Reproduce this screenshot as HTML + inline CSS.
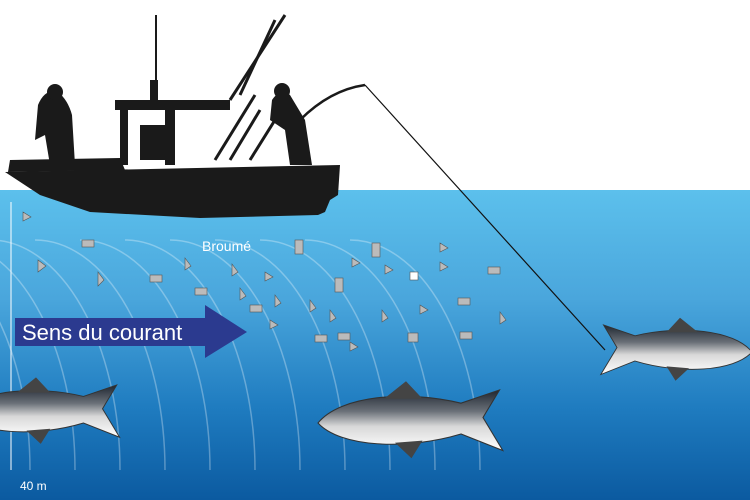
<!DOCTYPE html><html><head><style>body{margin:0}svg{display:block}</style></head><body>
<svg width="750" height="500" viewBox="0 0 750 500" xmlns="http://www.w3.org/2000/svg" font-family="Liberation Sans, sans-serif">
<defs>
<linearGradient id="w" x1="0" y1="0" x2="0" y2="1">
<stop offset="0" stop-color="#5cc0ec"/><stop offset="0.35" stop-color="#4aa6dc"/><stop offset="0.7" stop-color="#1f7cc0"/><stop offset="1" stop-color="#0b5aa0"/></linearGradient>
<linearGradient id="f" x1="0" y1="0" x2="0" y2="1"><stop offset="0" stop-color="#1e2630"/><stop offset="0.35" stop-color="#6a7078"/><stop offset="0.6" stop-color="#d8d8d8"/><stop offset="1" stop-color="#fff"/></linearGradient>
<clipPath id="c"><rect x="0" y="232" width="750" height="240"/></clipPath>
<g id="fish"><path d="M0,30 C20,5 80,0 130,12 L165,0 L150,25 L168,55 L130,40 C80,55 20,52 0,30Z" fill="url(#f)" stroke="#333" stroke-width="1"/><path d="M60,8 L80,-8 L95,8Z M70,48 L85,62 L95,46Z" fill="#444"/></g>
</defs>
<rect width="750" height="192" fill="#fff"/>
<rect y="190" width="750" height="310" fill="url(#w)"/>
<g clip-path="url(#c)" fill="none" stroke="#fff" stroke-opacity="0.3" stroke-width="1.5">
<path d="M-100,240 A130,230 0 0 1 30,470"/><path d="M-55,240 A130,230 0 0 1 75,470"/><path d="M-10,240 A130,230 0 0 1 120,470"/><path d="M35,240 A130,230 0 0 1 165,470"/><path d="M80,240 A130,230 0 0 1 210,470"/><path d="M125,240 A130,230 0 0 1 255,470"/><path d="M170,240 A130,230 0 0 1 300,470"/><path d="M215,240 A130,230 0 0 1 345,470"/><path d="M260,240 A130,230 0 0 1 390,470"/><path d="M305,240 A130,230 0 0 1 435,470"/><path d="M350,240 A130,230 0 0 1 480,470"/>
</g>
<line x1="11" y1="202" x2="11" y2="470" stroke="#fff" stroke-width="1"/>
<text x="20" y="490" fill="#fff" font-size="12">40 m</text>
<text x="202" y="251" fill="#fff" font-size="14">Broumé</text>
<g fill="#bbb" stroke="#555" stroke-width="0.6">
<rect x="82" y="240" width="12" height="7"/><rect x="150" y="275" width="12" height="7"/><rect x="195" y="288" width="12" height="7"/><rect x="250" y="305" width="12" height="7"/><rect x="295" y="240" width="8" height="14"/><rect x="372" y="243" width="8" height="14"/><rect x="335" y="278" width="8" height="14"/><rect x="315" y="335" width="12" height="7"/><rect x="338" y="333" width="12" height="7"/><rect x="408" y="333" width="10" height="9"/><rect x="458" y="298" width="12" height="7"/><rect x="488" y="267" width="12" height="7"/><rect x="460" y="332" width="12" height="7"/><rect x="410" y="272" width="8" height="8" fill="#fff"/>
<path d="M38,260 l8,6 l-8,6Z M98,272 l6,8 l-6,6Z M185,258 l6,8 l-6,4Z M232,264 l6,8 l-6,4Z M265,272 l8,5 l-8,4Z M240,288 l6,8 l-6,4Z M275,295 l6,8 l-6,4Z M270,320 l8,5 l-8,4Z M310,300 l6,8 l-6,4Z M330,310 l6,8 l-6,4Z M352,258 l8,5 l-8,4Z M385,265 l8,5 l-8,4Z M382,310 l6,8 l-6,4Z M420,305 l8,5 l-8,4Z M440,262 l8,5 l-8,4Z M440,243 l8,5 l-8,4Z M500,312 l6,8 l-6,4Z M23,212 l8,5 l-8,4Z M350,342 l8,5 l-8,4Z"/>
</g>
<rect x="15" y="318" width="192" height="28" fill="#2b3a8f"/>
<path d="M205,305 L247,332 L205,358Z" fill="#2b3a8f"/>
<text x="22" y="340" fill="#fff" font-size="22">Sens du courant</text>
<use href="#fish" transform="translate(-40,385) scale(0.95,0.95)"/>
<use href="#fish" transform="translate(318,390) scale(1.1,1.1)"/>
<use href="#fish" transform="translate(752,325) scale(-0.9,0.9)"/>
<g fill="#1a1a1a">
<path d="M5,172 L340,165 L338,195 L330,200 L325,212 L318,215 L200,218 L90,212 L40,195Z"/>
<path d="M10,160 L120,158 L125,170 L8,172Z"/>
<rect x="115" y="100" width="115" height="10"/><rect x="120" y="110" width="8" height="55"/><rect x="165" y="110" width="10" height="55"/>
<rect x="150" y="80" width="8" height="25"/><rect x="155" y="15" width="2" height="70"/>
<rect x="140" y="125" width="30" height="35"/>
<path d="M38,105 Q45,88 58,92 Q68,100 72,115 L75,165 L50,165 L45,135 L35,140Z"/><circle cx="55" cy="92" r="8"/>
<path d="M272,100 Q280,88 290,95 L305,120 L312,165 L290,165 L285,130 L270,120Z"/><circle cx="282" cy="91" r="8"/>
</g>
<g stroke="#1a1a1a" stroke-width="3" fill="none">
<path d="M230,100 L285,15"/><path d="M240,95 L275,20"/><path d="M215,160 L255,95"/><path d="M230,160 L260,110"/><path d="M250,160 L275,120"/>
<path d="M300,120 Q330,90 365,85" stroke-width="2.5"/>
</g>
<path d="M365,85 L605,350" stroke="#111" stroke-width="1.2" fill="none"/>
</svg>
</body></html>
